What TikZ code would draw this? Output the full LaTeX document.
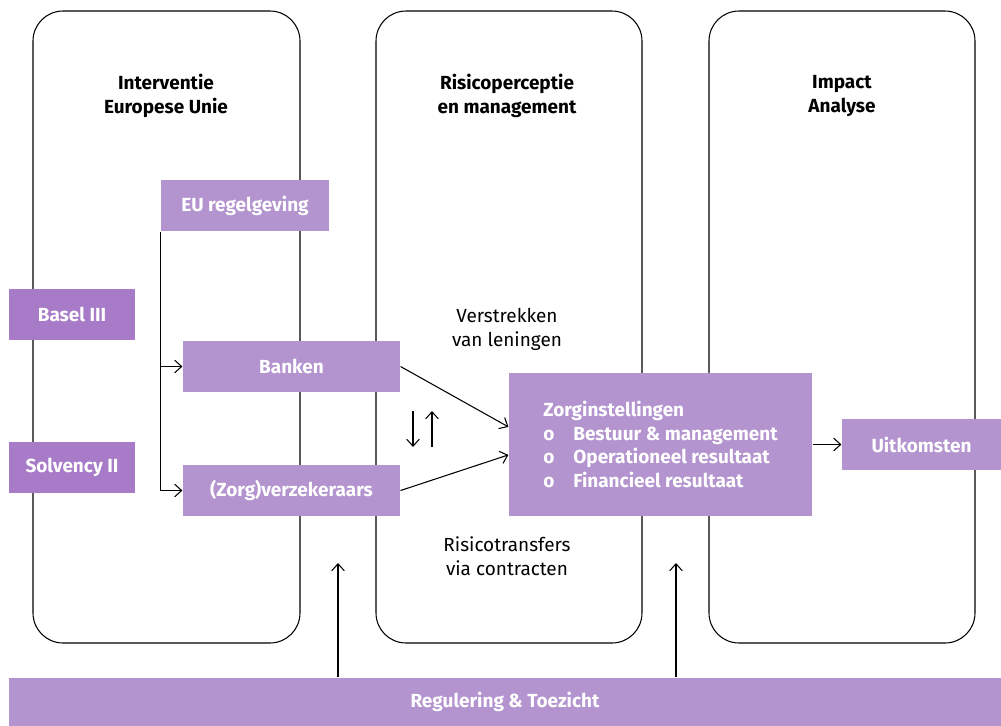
\documentclass[tikz,border=0pt]{standalone}
\usepackage{fontspec}
\setmainfont{Fira Sans}
\usetikzlibrary{arrows.meta}
\definecolor{lila}{HTML}{B394CF}
\definecolor{lilaD}{HTML}{A77BC8}

\begin{document}
\begin{tikzpicture}[x=0.025cm,y=-0.025cm,>={Straight Barb[length=5pt,width=9pt]},
  line width=0.75pt,
  font=\fontsize{13.5}{17}\selectfont,
  col/.style={draw,rounded corners=0.75cm},
  kop/.style={align=center,font=\fontsize{13.5}{17}\selectfont\bfseries},
  vak/.style={fill=lila,text=white,inner sep=0pt,minimum height=1.275cm,
    font=\fontsize{13.5}{17}\selectfont\bfseries},
  vakD/.style={vak,fill=lilaD}]
\useasboundingbox (0,0) rectangle (1001,725);
% Kolommen
\draw[col] (33,11) rectangle (300,643);
\draw[col] (376,11) rectangle (642,643);
\draw[col] (709,11) rectangle (975,643);
\node[kop] (k1) at (166,96) {Interventie\\Europese Unie};
\node[kop] (k2) at (507,96) {Risicoperceptie\\en management};
\node[kop] (k3) at (842,96) {Impact\\Analyse};
% Blokken
\node[vak,minimum width=4.2cm] (eu) at (245,205.5) {EU regelgeving};
\node[vakD,minimum width=3.15cm] (basel) at (72,314.5) {Basel III};
\node[vakD,minimum width=3.15cm] (solv) at (72,467.5) {Solvency II};
\node[vak,minimum width=5.425cm] (bank) at (291.5,366.5) {Banken};
\node[vak,minimum width=5.425cm] (verz) at (291.5,490.5) {(Zorg)verzekeraars};
\node[vak,minimum width=7.575cm,minimum height=3.575cm,align=left] (zorg) at (660.5,444.5)
  {Zorginstellingen\\\makebox[0.75cm][l]{o}Bestuur \& management\\
   \makebox[0.75cm][l]{o}Operationeel resultaat\\\makebox[0.75cm][l]{o}Financieel resultaat};
\node[vak,minimum width=3.975cm] (uitk) at (921.5,444.5) {Uitkomsten};
\node[vak,minimum width=24.8cm,minimum height=1.2cm] (reg) at (505,702) {Regulering \& Toezicht};
% Teksten
\node[align=center] (lening) at (507,329) {Verstrekken\\van leningen};
\node[align=center] (contr) at (507,556.5) {Risicotransfers\\via contracten};
% Pijlen
\draw[->] (eu.south west) |- (verz.west);
\draw[->] (eu.south west |- bank.west) -- (bank.west);
\draw[->] (bank.east) -- ([yshift=0.44cm]zorg.west);
\draw[->] (verz.east) -- ([yshift=-0.26cm]zorg.west);
\draw[->] (zorg.east) -- (uitk.west);
\coordinate (d1) at (413,411);
\coordinate (d2) at (413,447);
\coordinate (u1) at (432,447);
\coordinate (u2) at (432,411);
\draw[->] (d1) -- (d2);
\draw[->] (u1) -- (u2);
\coordinate (r1) at (338,563);
\coordinate (r2) at (676,563);
\draw[->] (reg.north -| r1) -- (r1);
\draw[->] (reg.north -| r2) -- (r2);
\end{tikzpicture}
\end{document}
